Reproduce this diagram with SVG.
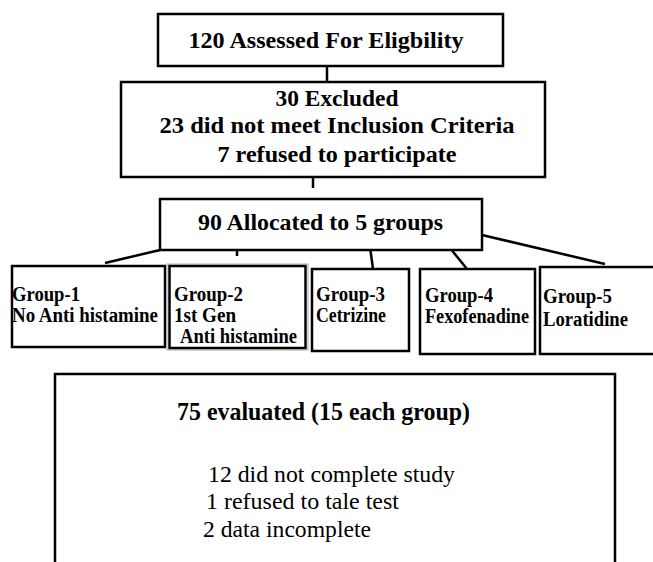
<svg xmlns="http://www.w3.org/2000/svg" width="653" height="562" viewBox="0 0 653 562">
<style>
.box{fill:#fff;stroke:#000;stroke-width:2.5}
.halo{fill:none;stroke:#aaa;stroke-width:1}
.c{stroke:#000;stroke-width:2.5;fill:none}
</style>
<rect width="653" height="562" fill="#fff"/>
<g id="connectors">
<line class="c" x1="327" y1="66" x2="327" y2="82"/>
<line class="c" x1="313" y1="177" x2="313" y2="188"/>
<line class="c" x1="160" y1="250" x2="105" y2="263"/>
<line class="c" x1="237" y1="250" x2="237" y2="256"/>
<line class="c" x1="370" y1="247" x2="373" y2="269"/>
<line class="c" x1="450" y1="248" x2="467" y2="269"/>
<line class="c" x1="482" y1="235" x2="605" y2="264"/>
</g>
<g font-family="Liberation Serif, 'Times New Roman', serif" fill="#000">
<g font-weight="bold" font-size="24">
<g id="assessed">
<rect class="box" x="158" y="14" width="345" height="52"/>
<text x="326" y="48" text-anchor="middle" textLength="275" lengthAdjust="spacingAndGlyphs">120 Assessed For Eligbility</text>
</g>
<g id="excluded">
<rect class="box" x="121" y="82" width="424" height="95"/>
<text x="337" y="106" text-anchor="middle" textLength="123" lengthAdjust="spacingAndGlyphs">30 Excluded</text>
<text x="337" y="133" text-anchor="middle" textLength="355" lengthAdjust="spacingAndGlyphs">23 did not meet Inclusion Criteria</text>
<text x="337" y="162" text-anchor="middle" textLength="239" lengthAdjust="spacingAndGlyphs">7 refused to participate</text>
</g>
<g id="allocated">
<rect class="box" x="160" y="199" width="322" height="51"/>
<text x="320.5" y="230" text-anchor="middle" textLength="245" lengthAdjust="spacingAndGlyphs">90 Allocated to 5 groups</text>
</g>
</g>
<g font-weight="bold" font-size="20.5">
<g id="group1">
<rect class="box" x="12" y="266" width="153" height="81"/>
<text x="12" y="301" textLength="68" lengthAdjust="spacingAndGlyphs">Group-1</text>
<text x="12" y="322" textLength="146" lengthAdjust="spacingAndGlyphs">No Anti histamine</text>
</g>
<g id="group2">
<rect class="halo" x="167" y="264" width="141" height="86"/>
<rect class="box" x="169.5" y="266" width="136" height="82"/>
<text x="174" y="301" textLength="69" lengthAdjust="spacingAndGlyphs">Group-2</text>
<text x="174" y="322" textLength="62" lengthAdjust="spacingAndGlyphs">1st Gen</text>
<text x="180" y="343" textLength="117" lengthAdjust="spacingAndGlyphs">Anti histamine</text>
</g>
<g id="group3">
<rect class="box" x="312" y="269" width="97" height="82"/>
<text x="316" y="301" textLength="69" lengthAdjust="spacingAndGlyphs">Group-3</text>
<text x="316" y="322" textLength="70" lengthAdjust="spacingAndGlyphs">Cetrizine</text>
</g>
<g id="group4">
<rect class="box" x="420" y="269" width="115" height="85"/>
<text x="425" y="302" textLength="68" lengthAdjust="spacingAndGlyphs">Group-4</text>
<text x="425" y="323" textLength="104" lengthAdjust="spacingAndGlyphs">Fexofenadine</text>
</g>
<g id="group5">
<rect class="box" x="540" y="267" width="130" height="87"/>
<text x="543" y="303" textLength="69" lengthAdjust="spacingAndGlyphs">Group-5</text>
<text x="543" y="326" textLength="85" lengthAdjust="spacingAndGlyphs">Loratidine</text>
</g>
</g>
<g id="evaluated" font-size="23">
<rect class="box" x="55" y="374" width="560" height="220"/>
<text font-weight="bold" font-size="25" x="177" y="420" textLength="293" lengthAdjust="spacingAndGlyphs">75 evaluated (15 each group)</text>
<text x="208" y="482" textLength="247" lengthAdjust="spacingAndGlyphs">12 did not complete study</text>
<text x="206" y="509" textLength="193" lengthAdjust="spacingAndGlyphs">1 refused to tale test</text>
<text x="203" y="537" textLength="168" lengthAdjust="spacingAndGlyphs">2 data incomplete</text>
</g>
</g>
</svg>
